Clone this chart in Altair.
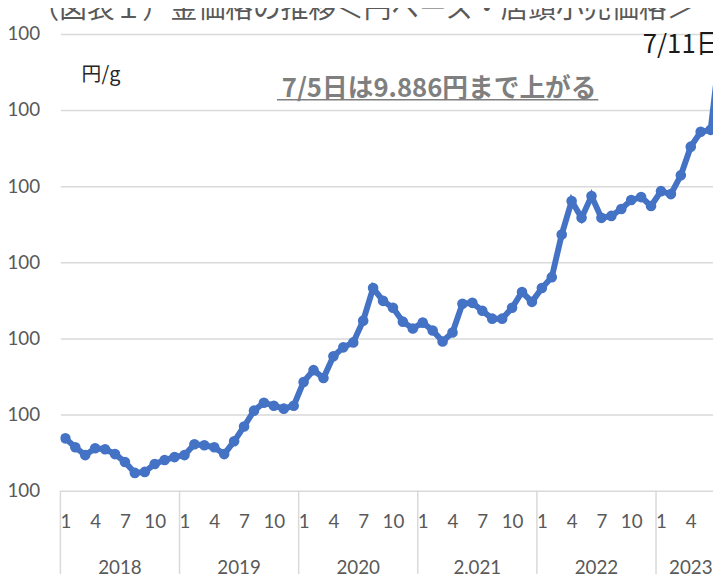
""" Gold retail price chart (yen per gram), monthly 2018-2023 """
import altair as alt
import pandas as pd

years = ["2018", "2019", "2020", "2,021", "2022", "2023"]
price_2018 = [4788, 4671, 4568, 4658, 4645, 4581, 4477, 4334, 4347, 4451, 4503, 4542]
price_2019 = [4568, 4710, 4697, 4671, 4581, 4749, 4944, 5152, 5256, 5217, 5178, 5217]
price_2020 = [5529, 5684, 5581, 5866, 5983, 6048, 6334, 6762, 6594, 6503, 6321, 6230]
price_2021 = [6308, 6204, 6061, 6178, 6555, 6568, 6464, 6360, 6360, 6503, 6710, 6581]
price_2022 = [6762, 6905, 7464, 7905, 7684, 7970, 7684, 7710, 7801, 7918, 7957, 7840]
price_2023 = [8035, 7996, 8243, 8619, 8814, 8840, 9950]
y_ticks = [4100, 5100, 6100, 7100, 8100, 9100, 10100]

title_text = "（図表１）金価格の推移＜円ベース・店頭小売価格＞"
unit_text = "円/g"
note_text = "7/5日は9.886円まで上がる"
last_text = "7/11日"

W, H = 660, 462
GRAY = "#595959"
LINE = "#4472C4"
FONT = "Lato"
JP = "Noto Sans CJK JP"

# long table: one row per month, idx counts months from Jan 2018
rows = []
for k, prices in enumerate([price_2018, price_2019, price_2020,
                            price_2021, price_2022, price_2023]):
    for m, v in enumerate(prices):
        rows.append({"idx": 12 * k + m, "month": m + 1,
                     "year": years[k], "price": v})
data = pd.DataFrame(rows)

groups = data.groupby("year", sort=False)["idx"].agg(["min", "max"]).reset_index()
groups["center"] = (groups["min"] + groups["max"]) / 2
groups["edge"] = groups["min"] - 0.5

x_scale = alt.Scale(domain=[-0.5, 65.24], nice=False, zero=False)
# same axis object for every layer so the merged axis keeps month labels
x_axis = alt.Axis(values=list(range(0, 66, 3)),
                  labelExpr="'' + (datum.value % 12 + 1)",
                  ticks=False, domain=False, grid=False, title=None,
                  labelFont=FONT, labelFontSize=19, labelColor=GRAY,
                  labelPadding=22, labelFlush=False, labelOverlap=False)

line = (alt
    .Chart(data)
    .mark_line(color=LINE, strokeWidth=6, clip=True,
               point=alt.OverlayMarkDef(size=115, filled=True, color=LINE, opacity=1))
    .encode(
        x=alt.X("idx:Q", scale=x_scale, axis=x_axis),
        y=alt.Y("price:Q", scale=alt.Scale(domain=[4100, 10100], nice=False, zero=False),
                axis=alt.Axis(values=y_ticks, labelExpr="format(datum.value, ',')",
                              ticks=False, domain=False,
                              title=None, gridColor="#d9d9d9", gridWidth=1.5,
                              labelFont=FONT, labelFontSize=19, labelColor=GRAY,
                              labelPadding=21)),
    )
)

# year group separators below the axis
separators = (alt
    .Chart(groups)
    .mark_rule(color="#d9d9d9", strokeWidth=1.5)
    .encode(x=alt.X("edge:Q", scale=x_scale, axis=x_axis),
            y=alt.value(H), y2=alt.value(H + 90))
)

year_labels = (alt
    .Chart(groups)
    .mark_text(font=FONT, fontSize=19, color=GRAY, baseline="middle")
    .encode(x=alt.X("center:Q", scale=x_scale, axis=x_axis),
            y=alt.value(540), text="year:N")
)


def label(text, x, y, size, color, align="center", weight="normal", font=JP,
          baseline="middle"):
    return (alt
        .Chart(pd.DataFrame({"t": [text]}))
        .mark_text(font=font, fontSize=size, color=color, align=align,
                   fontWeight=weight, baseline=baseline)
        .encode(x=alt.value(x), y=alt.value(y), text="t:N")
    )


title = label(title_text, 306, -16, 28, GRAY, baseline="alphabetic")
unit = label(unit_text, 41, 42, 20, "#262626")
note = label(note_text, 383, 56, 26, "#7f7f7f", weight="bold")
underline = (alt
    .Chart(pd.DataFrame({"t": [note_text]}))
    .mark_rule(color="#7f7f7f", strokeWidth=1.5)
    .encode(x=alt.value(219), x2=alt.value(544), y=alt.value(66.5))
)
last = label(last_text, 589, 11, 26, "#1a1a1a", align="left")

chart = (alt
    .layer(line, separators, year_labels, title, unit, note, underline, last)
    .properties(width=W, height=H,
                autosize=alt.AutoSizeParams(type="none"),
                padding={"left": 53, "top": 23, "right": 0, "bottom": 81},
                background="white")
    .configure_view(stroke=None)
)

chart.save("out.html", embed_options={"renderer": "svg", "actions": False})
